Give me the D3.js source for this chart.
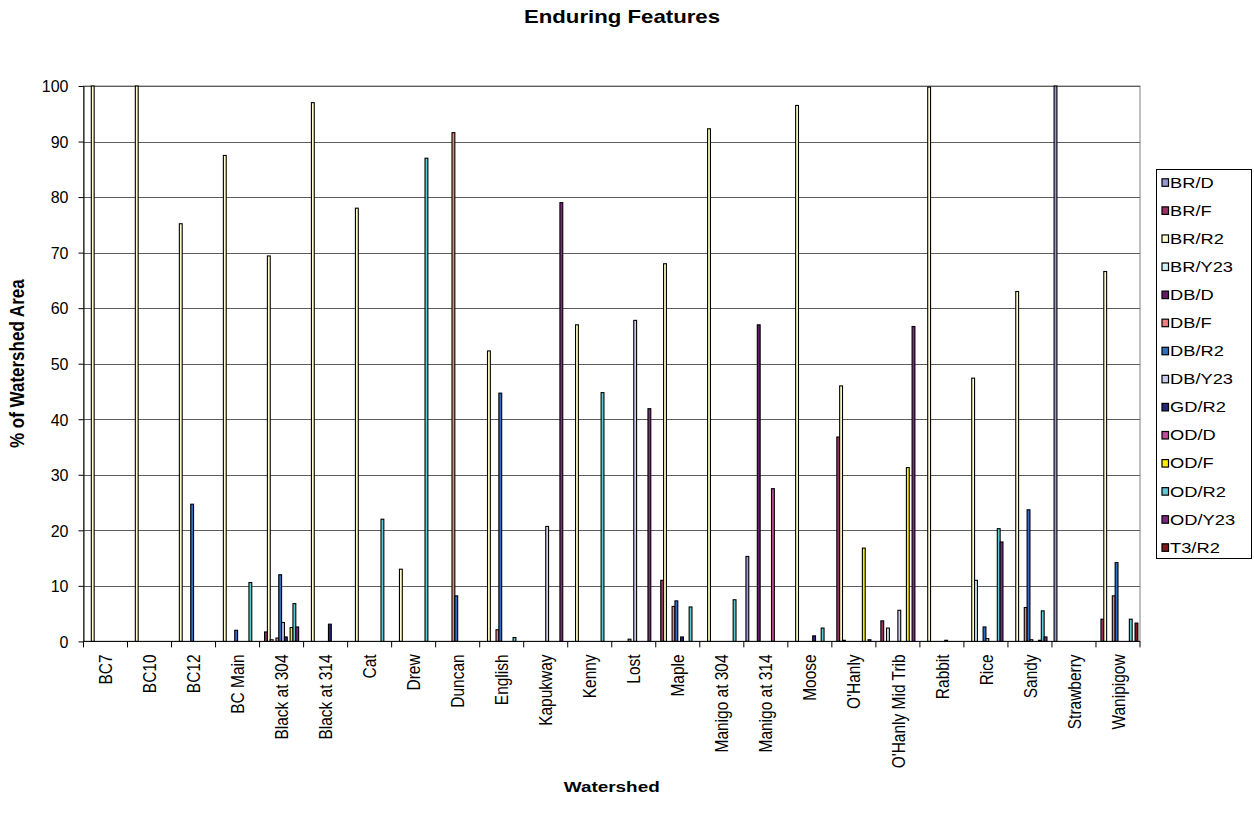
<!DOCTYPE html>
<html>
<head>
<meta charset="utf-8">
<script src="https://cdn.jsdelivr.net/npm/d3@7"></script>
<style>
  html, body { margin: 0; padding: 0; background: #fff; }
  svg { display: block; font-family: "Liberation Sans", Arial, sans-serif; }
</style>
</head>
<body>
<svg id="chart" width="1254" height="827"></svg>
<script>
// Watersheds along the category axis
const categories = ["BC7", "BC10", "BC12", "BC Main", "Black at 304", "Black at 314", "Cat", "Drew",
  "Duncan", "English", "Kapukway", "Kenny", "Lost", "Maple", "Manigo at 304", "Manigo at 314",
  "Moose", "O'Hanly", "O'Hanly Mid Trib", "Rabbit", "Rice", "Sandy", "Strawberry", "Wanipigow"];

// Enduring feature classes (series order)
const seriesNames = ["BR/D", "BR/F", "BR/R2", "BR/Y23", "DB/D", "DB/F", "DB/R2", "DB/Y23",
  "GD/R2", "OD/D", "OD/F", "OD/R2", "OD/Y23", "T3/R2"];

const seriesColors = ["#9797d4", "#993366", "#ffffcc", "#d0f2f6", "#661a66", "#f08080", "#2e6fc0",
  "#ccccee", "#25287a", "#c04c9c", "#ffee00", "#62c8d8", "#7f2882", "#7e1a1a"];

// % of watershed area, one value per watershed
const brD   = [0, 0, 0, 0, 0, 0, 0, 0, 0, 0, 0, 0, 0, 0, 0, 15.3, 0, 0, 0, 0, 0, 0, 100, 0];
const brF   = [0, 0, 0, 0, 1.7, 0, 0, 0, 0, 0, 0, 0, 0, 11, 0, 0, 0, 36.8, 3.7, 0, 0, 0, 0, 4];
const brR2  = [100, 100, 75.2, 87.5, 69.4, 97, 78, 13, 0, 52.3, 0, 57, 0, 68, 92.3, 0, 96.5, 46, 0, 99.8, 47.4, 63, 0, 66.6];
const brY23 = [0, 0, 0, 0, 0.3, 0, 0, 0, 0, 0, 0, 0, 0, 0, 0, 0, 0, 0.2, 2.4, 0, 11, 0, 0, 0];
const dbD   = [0, 0, 0, 0, 0, 0, 0, 0, 0, 0, 0, 0, 0, 0, 0, 57, 0, 0, 0, 0, 0, 0, 0, 0];
const dbF   = [0, 0, 0, 0, 0.6, 0, 0, 0, 91.6, 2.1, 0, 0, 0.4, 6.3, 0, 0, 0, 0, 0, 0, 0, 6.1, 0, 8.2];
const dbR2  = [0, 0, 24.7, 2.0, 12, 0, 0, 0, 8.2, 44.7, 0, 0, 0, 7.3, 0, 0, 0, 0, 0, 0, 2.6, 23.7, 0, 14.2];
const dbY23 = [0, 0, 0, 0, 3.4, 0, 0, 0, 0, 0, 20.7, 0, 57.8, 0, 0, 0, 0, 0, 5.6, 0, 0.5, 0.3, 0, 0];
const gdR2  = [0, 0, 0, 0, 0.8, 3.1, 0, 0, 0, 0, 0, 0, 0, 0.8, 0, 0, 1.0, 0, 0, 0.2, 0, 0, 0, 0];
const odD   = [0, 0, 0, 0, 0, 0, 0, 0, 0, 0, 0, 0, 0, 0, 0, 27.5, 0, 0, 0, 0, 0, 0, 0, 0];
const odF   = [0, 0, 0, 0, 2.5, 0, 0, 0, 0, 0, 0, 0, 0, 0, 0, 0, 0, 16.8, 31.3, 0, 0, 0.2, 0, 0];
const odR2  = [0, 0, 0, 10.6, 6.8, 0, 22, 87, 0, 0.7, 0, 44.8, 0, 6.2, 7.5, 0, 2.4, 0, 0, 0, 20.3, 5.5, 0, 4.0];
const odY23 = [0, 0, 0, 0, 2.6, 0, 0, 0, 0, 0, 79, 0, 41.9, 0, 0, 0, 0, 0.3, 56.7, 0, 17.9, 0.8, 0, 0];
const t3R2  = [0, 0, 0, 0, 0, 0, 0, 0, 0, 0, 0, 0, 0, 0, 0, 0, 0, 0, 0, 0, 0, 0, 0, 3.3];

const seriesValues = [brD, brF, brR2, brY23, dbD, dbF, dbR2, dbY23, gdR2, odD, odF, odR2, odY23, t3R2];

const yTicks = [0, 10, 20, 30, 40, 50, 60, 70, 80, 90, 100];

// ---- layout ----
const SX = 1.22; // horizontal widening of lettering
const plot = { left: 83.5, right: 1140, top: 86, bottom: 641.4 };
const FONT = 15.5;

const svg = d3.select("#chart");

const x0 = d3.scaleBand().domain(categories).range([plot.left, plot.right]).paddingInner(0).paddingOuter(0);
const x1 = d3.scaleBand().domain(seriesNames).range([0, x0.bandwidth()]).paddingInner(0).paddingOuter(0.75);
const y = d3.scaleLinear().domain([0, 100]).range([plot.bottom, plot.top]);

// text helper: places a label and widens it horizontally
function stretched(sel, x, yy, rot) {
  return sel.attr("transform", `translate(${x},${yy}) scale(${SX},1)` + (rot ? ` rotate(${rot})` : ""));
}

// plot area frame
svg.append("rect")
  .attr("x", plot.left).attr("y", plot.top)
  .attr("width", plot.right - plot.left).attr("height", plot.bottom - plot.top)
  .attr("fill", "#fff").attr("stroke", "#808080").attr("stroke-width", 1);

// horizontal gridlines
svg.append("g").selectAll("line")
  .data(yTicks.filter(d => d > 0))
  .join("line")
  .attr("x1", plot.left).attr("x2", plot.right)
  .attr("y1", d => Math.round(y(d)) + 0.5).attr("y2", d => Math.round(y(d)) + 0.5)
  .attr("stroke", "#5e5e5e").attr("stroke-width", 1);

// bars
const seriesG = svg.append("g").selectAll("g")
  .data(seriesNames.map((name, i) => ({ name, color: seriesColors[i], values: seriesValues[i] })))
  .join("g")
  .attr("fill", d => d.color);

seriesG.selectAll("rect")
  .data(d => d.values.map((v, j) => ({ name: d.name, cat: categories[j], v })).filter(e => e.v > 0))
  .join("rect")
  .attr("x", d => x0(d.cat) + x1(d.name))
  .attr("width", x1.bandwidth())
  .attr("y", d => y(d.v))
  .attr("height", d => y(0) - y(d.v))
  .attr("stroke", "#000")
  .attr("stroke-width", 1.1);

// y axis
const yAxis = svg.append("g")
  .attr("transform", `translate(${plot.left},0)`)
  .call(d3.axisLeft(y).tickValues(yTicks).tickSize(5).tickSizeOuter(0));
yAxis.select(".domain").attr("stroke", "#000");
yAxis.selectAll(".tick line").attr("stroke", "#000");
yAxis.selectAll(".tick text")
  .attr("x", -15).attr("dy", "0.36em")
  .attr("font-size", 16).attr("fill", "#000")
  .attr("font-family", "Liberation Sans, Arial, sans-serif")
  .attr("text-anchor", "end");

// x axis line with ticks at category boundaries
const xAxisG = svg.append("g");
xAxisG.append("line")
  .attr("x1", plot.left).attr("x2", plot.right)
  .attr("y1", plot.bottom).attr("y2", plot.bottom)
  .attr("stroke", "#000");
xAxisG.selectAll("line.tick")
  .data(categories.concat([null]))
  .join("line")
  .attr("class", "tick")
  .attr("x1", d => d === null ? plot.right : x0(d))
  .attr("x2", d => d === null ? plot.right : x0(d))
  .attr("y1", plot.bottom).attr("y2", plot.bottom + 6)
  .attr("stroke", "#000");

xAxisG.selectAll("text")
  .data(categories)
  .join("text")
  .attr("font-size", FONT)
  .attr("text-anchor", "end")
  .attr("dy", "0.35em")
  .text(d => d)
  .each(function (d) {
    stretched(d3.select(this), x0(d) + x0.bandwidth() / 2, plot.bottom + 13, -90);
  });

// titles
stretched(svg.append("text"), 622, 22.5)
  .attr("text-anchor", "middle").attr("font-weight", "bold").attr("font-size", 18.2)
  .text("Enduring Features");

stretched(svg.append("text"), (plot.left + plot.right) / 2, 792)
  .attr("text-anchor", "middle").attr("font-weight", "bold").attr("font-size", FONT)
  .text("Watershed");

stretched(svg.append("text"), 17, (plot.top + plot.bottom) / 2, -90)
  .attr("text-anchor", "middle").attr("font-weight", "bold").attr("font-size", 17)
  .attr("dy", "0.35em")
  .text("% of Watershed Area");

// legend
const legendBox = { x: 1156.5, y: 169.5, w: 95, h: 389 };
svg.append("rect")
  .attr("x", legendBox.x).attr("y", legendBox.y)
  .attr("width", legendBox.w).attr("height", legendBox.h)
  .attr("fill", "#fff").attr("stroke", "#000").attr("stroke-width", 1);

const ly = d3.scalePoint().domain(seriesNames).range([182.3, 547.3]);
const items = svg.append("g").selectAll("g")
  .data(seriesNames.map((name, i) => ({ name, color: seriesColors[i] })))
  .join("g")
  .attr("transform", d => `translate(0,${ly(d.name)})`);

items.append("rect")
  .attr("x", 1162).attr("y", -3.5)
  .attr("width", 6.5).attr("height", 7.5)
  .attr("fill", d => d.color)
  .attr("stroke", "#000").attr("stroke-width", 1.2);

items.append("text")
  .attr("font-size", 15)
  .attr("dy", "0.36em")
  .text(d => d.name)
  .each(function () { stretched(d3.select(this), 1170, 0); });
</script>
</body>
</html>
